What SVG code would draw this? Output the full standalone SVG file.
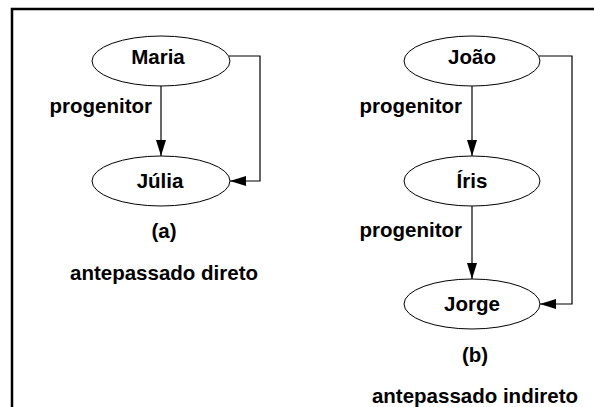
<svg xmlns="http://www.w3.org/2000/svg" width="594" height="407" viewBox="0 0 594 407">
<style>
.node ellipse{fill:#fff;stroke:#000;stroke-width:1}
text{font-family:"Liberation Sans",Arial,sans-serif;font-weight:bold;font-size:20.5px;fill:#000}
.c{text-anchor:middle}
.e{text-anchor:end}
.conn path{fill:none;stroke:#000;stroke-width:1.2}
</style>
<defs>
<marker id="ah" viewBox="0 0 16 10" refX="16" refY="5" markerWidth="16" markerHeight="10" markerUnits="userSpaceOnUse" orient="auto">
<path d="M0,0 L16,5 L0,10 Z" fill="#000"/>
</marker>
</defs>
<rect width="594" height="407" fill="#fff"/>
<path d="M12,407 V9 H594" fill="none" stroke="#000" stroke-width="2.5"/>
<g class="conn">
<path d="M161,86 V156" marker-end="url(#ah)"/>
<path d="M229,56 H260 V181 H230" marker-end="url(#ah)"/>
<path d="M472,86 V156" marker-end="url(#ah)"/>
<path d="M472,206 V279" marker-end="url(#ah)"/>
<path d="M539,56 H572 V304 H540" marker-end="url(#ah)"/>
</g>
<g id="maria" class="node"><ellipse cx="161" cy="61" rx="69" ry="25"/><text class="c" x="158" y="64">Maria</text></g>
<g id="julia" class="node"><ellipse cx="161" cy="181" rx="69" ry="25"/><text class="c" x="160" y="188">Júlia</text></g>
<g id="joao" class="node"><ellipse cx="472" cy="61" rx="68" ry="25"/><text class="c" x="472" y="64">João</text></g>
<g id="iris" class="node"><ellipse cx="472" cy="181" rx="68" ry="25"/><text class="c" x="472" y="188">Íris</text></g>
<g id="jorge" class="node"><ellipse cx="472" cy="304" rx="68" ry="25"/><text class="c" x="472" y="311">Jorge</text></g>
<g id="labels">
<text class="e" x="152" y="113">progenitor</text>
<text class="e" x="462" y="113">progenitor</text>
<text class="e" x="462" y="237">progenitor</text>
<text class="c" x="164" y="238">(a)</text>
<text class="c" x="164" y="280">antepassado direto</text>
<text class="c" x="475" y="362">(b)</text>
<text class="c" x="475" y="403">antepassado indireto</text>
</g>
</svg>
